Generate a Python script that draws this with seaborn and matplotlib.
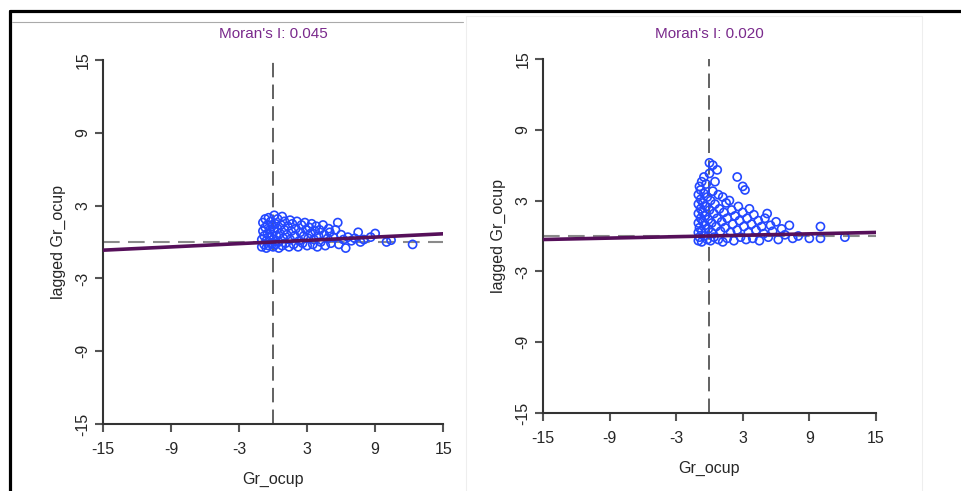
import numpy as np
import pandas as pd
import seaborn as sns
import matplotlib.pyplot as plt
from matplotlib.lines import Line2D

# --- data ---
moran_i = [0.045, 0.020]
tick_vals = [-15, -9, -3, 3, 9, 15]
var_name = "Gr_ocup"
lag_name = "lagged Gr_ocup"

left_x = [-1.0, -1.0, -0.9, -0.9, -0.8, -0.8, -0.7, -0.7, -0.6, -0.6, -0.5, -0.5,
          -0.4, -0.4, -0.3, -0.3, -0.2, -0.2, -0.1, -0.1, 0.0, 0.0, 0.1, 0.1, 0.2,
          0.2, 0.3, 0.4, 0.4, 0.5, 0.5, 0.6, 0.7, 0.8, 0.8, 0.9, 1.0, 1.0, 1.1, 1.2,
          1.3, 1.4, 1.5, 1.5, 1.6, 1.7, 1.8, 1.9, 2.0, 2.1, 2.2, 2.3, 2.4, 2.5, 2.6,
          2.7, 2.8, 2.9, 3.0, 3.1, 3.2, 3.3, 3.4, 3.5, 3.6, 3.7, 3.8, 3.9, 4.0, 4.1,
          4.2, 4.4, 4.5, 4.6, 4.8, 4.9, 5.0, 5.1, 5.3, 5.5, 5.7, 5.8, 6.0, 6.2, 6.4,
          6.6, 6.9, 7.2, 7.5, 7.7, 8.0, 8.6, 9.0, 10.0, 10.4, 12.3]
left_y = [-0.4, 0.2, 0.9, 1.6, -0.2, 0.5, 1.2, 1.9, -0.5, 0.1, 0.7, 1.4,
          -0.3, 2.0, 0.4, 1.0, -0.1, 1.7, 0.6, 1.3, -0.4, 0.2, 0.9, 2.2, 1.5,
          -0.2, 0.5, 1.1, 1.9, -0.5, 0.0, 0.7, 1.4, -0.3, 2.1, 0.3, 1.0, 1.7, -0.1, 0.6,
          1.3, -0.4, 0.2, 1.8, 0.9, 1.5, -0.2, 0.5, 1.1, 1.7, -0.4, 0.1, 0.8, 1.4, -0.1,
          0.5, 1.6, 1.0, -0.3, 0.3, 1.2, 0.7, 1.5, -0.2, 0.2, 0.9, 1.3, -0.4, 0.5, 1.0,
          0.0, 1.4, 0.6, -0.3, 0.3, 1.1, 0.8, -0.1, 0.4, 1.0, 1.6, -0.2, 0.6, 0.2, -0.5,
          0.4, 0.1, 0.3, 0.8, 0.0, 0.2, 0.4, 0.7, 0.0, 0.15, -0.2]

right_x = [-1.0, -1.0, -1.0, -1.0, -1.0, -1.0, -0.9, -0.9, -0.9, -0.8, -0.8, -0.8,
           -0.8, -0.7, -0.7, -0.7, -0.6, -0.6, -0.6, -0.5, -0.5, -0.5, -0.4, -0.4,
           -0.3, -0.3, -0.2, -0.2, -0.1, -0.1, 0.0, 0.0, 0.0, 0.1, 0.1, 0.2, 0.2, 0.3,
           0.3, 0.4, 0.4, 0.5, 0.5, 0.6, 0.7, 0.7, 0.8, 0.8, 0.9, 1.0, 1.1, 1.2, 1.2,
           1.3, 1.4, 1.5, 1.6, 1.6, 1.8, 1.9, 2.0, 2.1, 2.2, 2.3, 2.5, 2.5, 2.6, 2.7,
           2.8, 3.0, 3.0, 3.1, 3.2, 3.3, 3.4, 3.5, 3.6, 3.8, 3.9, 4.0, 4.2, 4.4, 4.5,
           4.7, 4.9, 5.0, 5.2, 5.3, 5.5, 5.7, 6.0, 6.2, 6.5, 6.8, 7.2, 7.5, 8.0, 9.0,
           10.0, 10.0, 12.2]
right_y = [-0.4, 0.3, 1.1, 1.9, 2.7, 3.5, 4.2, -0.1, 0.7, 1.5, 2.3, 3.1,
           3.9, 4.6, -0.5, 0.4, 1.2, 2.0, 2.8, 3.6, 5.0, 0.0, 0.9, 1.7,
           2.5, 4.4, -0.3, 3.3, 0.6, 1.4, 6.2, 2.2, 5.3, -0.4, 3.0, 0.3, 1.1, 6.0,
           3.8, 1.9, -0.1, 2.7, 4.6, 0.8, 5.6, 1.5, -0.3, 3.5, 2.3, 0.4, 1.2, 3.3, -0.5,
           2.0, 0.7, 2.8, -0.2, 1.5, 3.0, 0.3, 2.2, 1.0, -0.4, 1.7, 5.0, 0.5, 2.5, 1.3,
           -0.1, 4.2, 2.0, 0.8, 3.9, -0.3, 1.5, 0.3, 2.3, 1.0, -0.2, 1.8, 0.5, 1.3, -0.4,
           0.8, 0.2, 1.5, 1.9, -0.1, 0.9, 0.4, 1.2, -0.3, 0.6, 0.1, 0.9, -0.2, 0.0, -0.2,
           0.8, -0.2, -0.1]

line_x = [-15, 15]

panels = [
    (pd.DataFrame({var_name: left_x, lag_name: left_y}), moran_i[0],
     [0.1072, 0.1365, 0.354, 0.7413], 0.931),
    (pd.DataFrame({var_name: right_x, lag_name: right_y}), moran_i[1],
     [0.565, 0.1589, 0.3465, 0.7210], 0.931),
]

sns.set_theme(style="white")
plt.rcParams["font.family"] = ["Liberation Sans", "DejaVu Sans"]

point_color = "#2448ff"
line_color = "#56105a"
title_color = "#7a2a8c"

fig = plt.figure(figsize=(9.61, 4.91), dpi=100)

for df, mi, rect, ty in panels:
    ax = fig.add_axes(rect)
    ax.axvline(0, color="#555555", lw=1.3, ls=(0, (8, 4)), zorder=1)
    ax.axhline(0, color="#8a8a8a", lw=1.5, ls=(0, (8, 4)), zorder=1)
    sns.scatterplot(data=df, x=var_name, y=lag_name, ax=ax, marker="o", s=34,
                    facecolors="none", edgecolors=point_color, linewidths=1.2,
                    zorder=2)
    sns.lineplot(x=line_x, y=[mi * v for v in line_x], ax=ax, color=line_color,
                 lw=2.6, zorder=3)
    ax.set_xlim(-15, 15)
    ax.set_ylim(-15, 15)
    ax.set_xticks(tick_vals)
    ax.set_yticks(tick_vals)
    ax.set_xticklabels([str(t) for t in tick_vals], fontsize=11.5)
    ax.set_yticklabels([str(t) for t in tick_vals], fontsize=11.5,
                       rotation=90, va="center")
    ax.set_xlabel(var_name, fontsize=11.5, labelpad=11)
    ax.set_ylabel(lag_name, fontsize=11.5, labelpad=7)
    sns.despine(ax=ax)
    for s in ["left", "bottom"]:
        ax.spines[s].set_color("#333333")
        ax.spines[s].set_linewidth(1.5)
    ax.tick_params(axis="x", direction="out", length=6, width=1.5,
                   color="#555555", bottom=True, pad=7)
    ax.tick_params(axis="y", direction="out", length=6, width=1.5,
                   color="#555555", left=True, pad=3)
    cx = rect[0] + rect[2] / 2
    fig.text(cx, ty, f"Moran's I: {mi:.3f}", ha="center", va="center",
             fontsize=11, color=title_color)

# screenshot frame lines
fig.add_artist(Line2D([10 / 961, 1], [1 - 11 / 491] * 2, color="black", lw=2.3))
fig.add_artist(Line2D([10 / 961] * 2, [0, 1 - 11 / 491], color="black", lw=2.3))
fig.add_artist(Line2D([12 / 961, 463 / 961], [1 - 22 / 491] * 2, color="#aaaaaa", lw=0.8))
fig.add_artist(Line2D([466 / 961, 922 / 961], [1 - 16 / 491] * 2, color="#eeeeee", lw=0.8))
fig.add_artist(Line2D([466 / 961] * 2, [0, 1 - 16 / 491], color="#eeeeee", lw=0.8))
fig.add_artist(Line2D([922 / 961] * 2, [0, 1 - 16 / 491], color="#eeeeee", lw=0.8))

fig.savefig("out.png", dpi=100)
